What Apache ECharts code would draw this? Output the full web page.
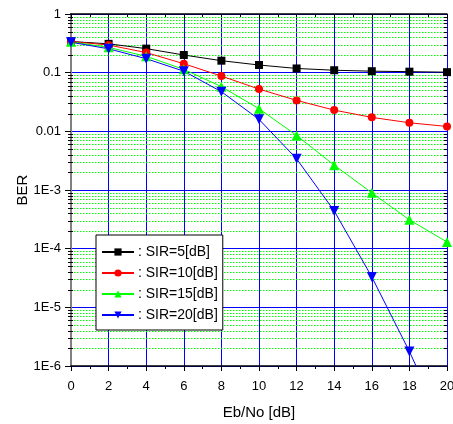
<!DOCTYPE html>
<html>
<head>
<meta charset="utf-8">
<script src="https://cdn.jsdelivr.net/npm/echarts@6/dist/echarts.min.js"></script>
<style>html,body{margin:0;padding:0;background:#fff}#c{width:453px;height:424px}</style>
</head>
<body>
<div id="c"></div>
<script>
var ebNo = [0, 2, 4, 6, 8, 10, 12, 14, 16, 18, 20];
var sir5 = [0.34, 0.31, 0.257, 0.20, 0.16, 0.135, 0.118, 0.11, 0.106, 0.104, 0.102];
var sir10 = [0.34, 0.296, 0.22, 0.142, 0.0875, 0.0525, 0.0337, 0.023, 0.0173, 0.014, 0.0121];
var sir15 = [0.335, 0.27, 0.19, 0.114, 0.0577, 0.0243, 0.0085, 0.00265, 0.000895, 0.00031, 0.00013];
var sir20 = [0.33, 0.255, 0.173, 0.106, 0.0474, 0.016, 0.0034, 0.00044, 0.000033, 0.00000177, 0.00000007];
var seriesNames = [': SIR=5[dB]', ': SIR=10[dB]', ': SIR=15[dB]', ': SIR=20[dB]'];
var yTickLabels = ['1', '0.1', '0.01', '1E-3', '1E-4', '1E-5', '1E-6'];
var xAxisName = 'Eb/No [dB]';
var yAxisName = 'BER';

var minorVals = [];
for (var e = 0; e < 6; e++) {
  for (var m = 2; m <= 9; m++) minorVals.push([0, m * Math.pow(10, -(e + 1))]);
}

function pairs(arr) { return ebNo.map(function (x, i) { return [x, arr[i]]; }); }
function yLabel(v) {
  var k = Math.round(-Math.log10(v));
  return yTickLabels[k] !== undefined ? yTickLabels[k] : '';
}

var FONT = '"Liberation Sans", Arial, sans-serif';
var chart = echarts.init(document.getElementById('c'));
var colors = ['#000000', '#ff0000', '#00ff00', '#0000ff'];
var symbols = ['rect', 'circle', 'triangle', 'triangle'];

var series = [sir5, sir10, sir15, sir20].map(function (d, i) {
  return {
    type: 'line', clip: true, z: 5, animation: false,
    name: seriesNames[i],
    data: pairs(d),
    symbol: symbols[i],
    symbolSize: i === 0 ? 8 : (i === 1 ? 8 : 10),
    symbolRotate: i === 3 ? 180 : 0,
    itemStyle: { color: colors[i] },
    lineStyle: { width: 1, color: colors[i] }
  };
});

series.unshift({
  type: 'custom',
  name: 'minor',
  silent: true,
  z: 1,
  animation: false,
  data: minorVals,
  renderItem: function (params, api) {
    var cs = params.coordSys;
    var y = Math.round(api.coord([0, api.value(1)])[1]) + 0.5;
    return {
      type: 'group',
      children: [
        { type: 'line', shape: { x1: cs.x, y1: y, x2: cs.x + cs.width, y2: y },
          style: { stroke: '#00ff00', lineWidth: 1, lineDash: [1.5, 1.5] } },
        { type: 'line', shape: { x1: cs.x - 3, y1: y, x2: cs.x + 2, y2: y },
          style: { stroke: '#000', lineWidth: 1 } },
        { type: 'line', shape: { x1: cs.x + cs.width - 3, y1: y, x2: cs.x + cs.width, y2: y },
          style: { stroke: '#000', lineWidth: 1 } }
      ]
    };
  }
});

chart.setOption({
  animation: false,
  backgroundColor: '#ffffff',
  grid: { left: 71, right: 6, top: 14, bottom: 58, containLabel: false, outerBoundsMode: 'none' },
  legend: {
    data: seriesNames,
    orient: 'vertical',
    left: 96, top: 235,
    backgroundColor: '#ffffff',
    borderColor: '#000000',
    borderWidth: 1,
    borderRadius: 0,
    padding: [10, 5, 8, 5],
    itemGap: 7,
    itemWidth: 32,
    itemHeight: 9,
    textStyle: { fontFamily: FONT, fontSize: 14, color: '#000', padding: [0, 0, 0, -1] },
    z: 10
  },
  xAxis: [{
    type: 'value', min: 0, max: 20, interval: 2,
    name: xAxisName, nameLocation: 'middle', nameGap: 39, nameMoveOverlap: false,
    nameTextStyle: { fontFamily: FONT, fontSize: 15, color: '#000' },
    axisLine: { lineStyle: { color: '#000', width: 1.5 } },
    axisTick: { show: true, length: 5, lineStyle: { color: '#000' } },
    minorTick: { show: true, splitNumber: 2, length: 3, lineStyle: { color: '#000' } },
    axisLabel: { fontFamily: FONT, fontSize: 13, color: '#000', margin: 14, hideOverlap: false },
    splitLine: { show: true, lineStyle: { color: '#0000ff', width: 1 } }
  }, {
    type: 'value', min: 0, max: 20, interval: 2, position: 'top',
    axisLine: { show: true, lineStyle: { color: '#000', width: 1.5 } },
    axisTick: { show: true, inside: true, length: 5, lineStyle: { color: '#000' } },
    minorTick: { show: true, splitNumber: 2, length: 3, lineStyle: { color: '#000' } },
    axisLabel: { show: false },
    splitLine: { show: false }
  }],
  yAxis: [{
    type: 'log', logBase: 10, min: 1e-6, max: 1, interval: 1,
    name: yAxisName, nameLocation: 'middle', nameGap: 41, nameRotate: 90, nameMoveOverlap: false,
    nameTextStyle: { fontFamily: FONT, fontSize: 15, color: '#000' },
    axisLine: { show: true, lineStyle: { color: '#000', width: 1.5 } },
    axisTick: { show: true, length: 6, lineStyle: { color: '#000' } },
    axisLabel: { fontFamily: FONT, fontSize: 13, color: '#000', margin: 10, formatter: yLabel },
    splitLine: { show: true, lineStyle: { color: '#0000ff', width: 1 } }
  }, {
    type: 'log', logBase: 10, min: 1e-6, max: 1, interval: 1, position: 'right',
    axisLine: { show: true, lineStyle: { color: '#808080', width: 2 } },
    axisTick: { show: true, inside: true, length: 5, lineStyle: { color: '#000' } },
    axisLabel: { show: false },
    splitLine: { show: false }
  }],
  series: series
});
</script>
</body>
</html>
